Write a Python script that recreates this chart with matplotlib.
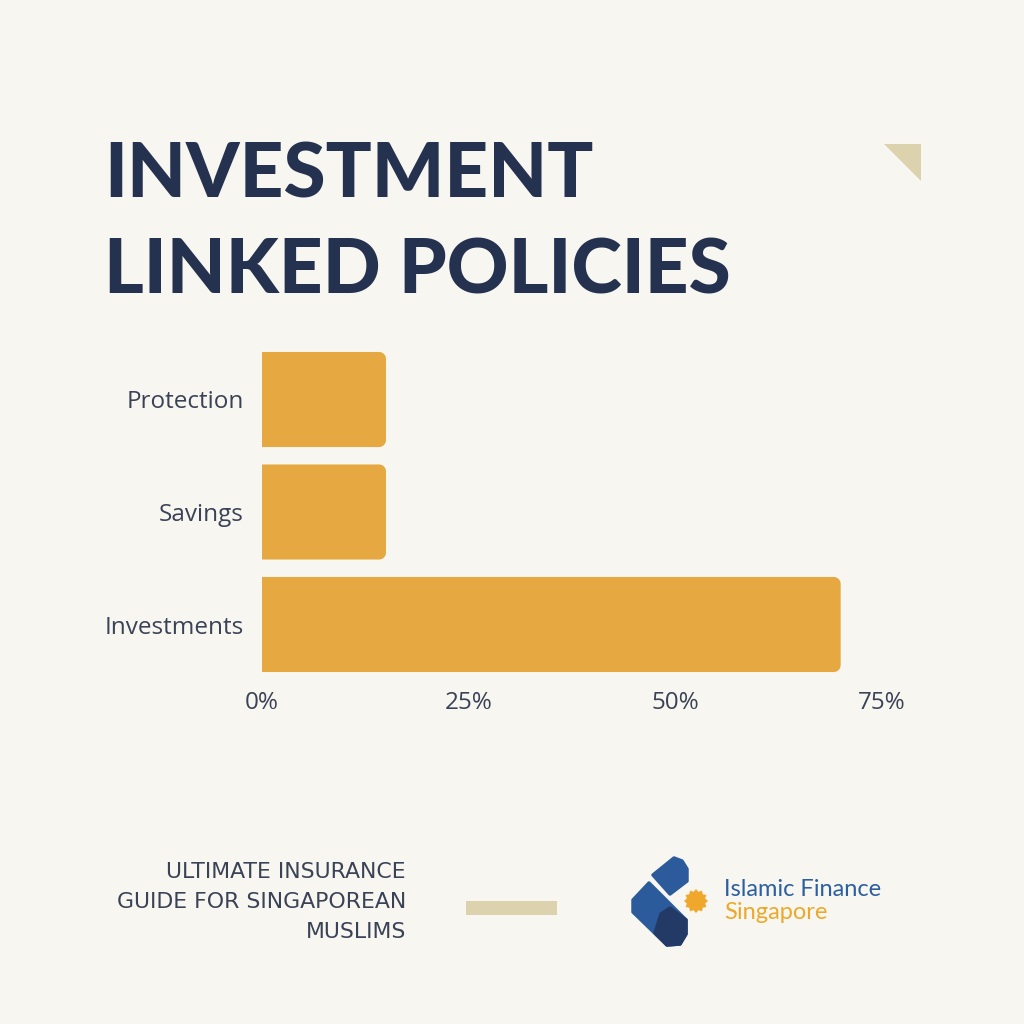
import matplotlib
matplotlib.use("Agg")
import matplotlib.pyplot as plt
from matplotlib.patches import Rectangle, Polygon
import numpy as np

categories = ["Protection", "Savings", "Investments"]
values = [15, 15, 70]
xticks = [0, 25, 50, 75]
xtick_labels = ["0%", "25%", "50%", "75%"]
title_lines = ["INVESTMENT", "LINKED POLICIES"]
footer_lines = ["ULTIMATE INSURANCE", "GUIDE FOR SINGAPOREAN", "MUSLIMS"]
logo_line1 = "Islamic Finance"
logo_line2 = "Singapore"

BG = "#f8f6f0"
NAVY = "#25324f"
BAR = "#e6a942"
TXT = "#3a4256"
BEIGE = "#dcd3ae"

W = H = 1024
fig = plt.figure(figsize=(10.24, 10.24), dpi=100, facecolor=BG)

def fx(x):
    return x / W

def fy(y):
    return 1 - y / H

ylo, yhi = -0.55, 2.55
top_px = 399.5 + ylo * 112.5
bot_px = 624.5 + (yhi - 2) * 112.5
ax = fig.add_axes([fx(262), fy(bot_px), (882 - 262) / W, (bot_px - top_px) / H])
ax.set_facecolor(BG)
ax.set_xlim(0, 75)
ax.set_ylim(yhi, ylo)

bars = ax.barh(categories, values, height=0.845, color=BAR, linewidth=0)
xpp = 75 / 620.0
ypp = (yhi - ylo) / (bot_px - top_px)
r_px = 7
rx, ry = r_px * xpp, r_px * ypp
t = np.linspace(0, np.pi / 2, 12)
for b in bars:
    x0, y0, w, h = b.get_x(), b.get_y(), b.get_width(), b.get_height()
    x1, y1 = x0 + w, y0 + h
    b.set_visible(False)
    pts = [(x0, y0)]
    # corner at (x1, y0)
    cx, cy = x1 - rx, y0 + ry
    pts += [(cx + rx * np.sin(a), cy - ry * np.cos(a)) for a in t]
    # corner at (x1, y1)
    cx, cy = x1 - rx, y1 - ry
    pts += [(cx + rx * np.cos(a), cy + ry * np.sin(a)) for a in t]
    pts.append((x0, y1))
    ax.add_patch(Polygon(pts, closed=True, facecolor=BAR, edgecolor="none", linewidth=0))

for s in ax.spines.values():
    s.set_visible(False)
ax.set_xticks(xticks)
ax.set_xticklabels(xtick_labels)
ax.tick_params(axis="both", length=0, colors=TXT, labelsize=17.5)
ax.tick_params(axis="y", pad=13)
ax.tick_params(axis="x", pad=3)
for lab in ax.get_xticklabels() + ax.get_yticklabels():
    lab.set_fontfamily("Open Sans")
    lab.set_color(TXT)

# Title
fig.text(fx(104), fy(197), title_lines[0], fontsize=55, fontweight="black",
         family="Lato", color=NAVY, ha="left", va="baseline")
fig.text(fx(104), fy(293), title_lines[1], fontsize=55, fontweight="black",
         family="Lato", color=NAVY, ha="left", va="baseline")

# corner triangle
fig.add_artist(Polygon([(fx(884), fy(144)), (fx(921), fy(144)), (fx(921), fy(181))],
                       closed=True, transform=fig.transFigure, facecolor=BEIGE,
                       edgecolor="none"))

# footer
for i, line in enumerate(footer_lines):
    fig.text(fx(406), fy(878 + 30 * i), line, fontsize=15.8, family="DejaVu Sans",
             color=TXT, ha="right", va="baseline")
fig.add_artist(Rectangle((fx(466), fy(915)), (557 - 466) / W, 14 / H,
                         transform=fig.transFigure, facecolor=BEIGE, edgecolor="none"))

# logo
def poly(pts, color):
    fig.add_artist(Polygon([(fx(a), fy(b)) for a, b in pts], closed=True,
                           transform=fig.transFigure, facecolor=color,
                           edgecolor=color, linewidth=2.5, joinstyle="round"))

LB = "#2b5b9b"
DB = "#243a66"
poly([(653, 875), (674, 858), (682, 861), (687, 869), (687, 881), (670, 894)], LB)
poly([(649, 883), (633, 900), (633, 912), (667, 945), (680, 944), (686, 934), (686, 920)], LB)
poly([(655, 933), (661, 914), (670, 908), (686, 920), (686, 934), (680, 944), (667, 945)], DB)
n = 12
ang = np.linspace(0, 2 * np.pi, 2 * n, endpoint=False) + np.pi / 2
rad = np.where(np.arange(2 * n) % 2 == 0, 12, 9.5)
star = [(696 + r * np.cos(a), 901 + r * np.sin(a)) for r, a in zip(rad, ang)]
fig.add_artist(Polygon([(fx(a), fy(b)) for a, b in star], closed=True,
                       transform=fig.transFigure, facecolor="#efa82c", edgecolor="none"))

fig.text(fx(724), fy(896), logo_line1, fontsize=17, family="Lato",
         color="#2b5fa0", ha="left", va="baseline")
fig.text(fx(724), fy(919), logo_line2, fontsize=17, family="Lato",
         color="#eba92c", ha="left", va="baseline")

fig.savefig("out.png", dpi=100, facecolor=BG)
